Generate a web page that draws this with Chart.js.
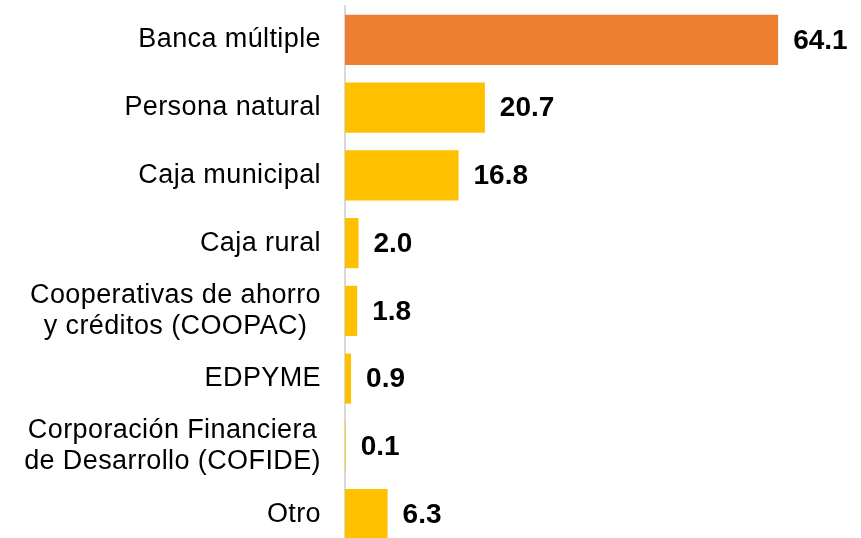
<!DOCTYPE html>
<html>
<head>
<meta charset="utf-8">
<script src="https://cdn.jsdelivr.net/npm/chart.js@4/dist/chart.umd.min.js"></script>
<style>
html,body{margin:0;padding:0;overflow:hidden;background:#fff;}
#wrap{position:absolute;left:0;top:0;width:861px;height:548px;}
</style>
</head>
<body>
<div id="wrap"><canvas id="c"></canvas></div>
<script>
const categories = [
  ["Banca múltiple"],
  ["Persona natural"],
  ["Caja municipal"],
  ["Caja rural"],
  ["Cooperativas de ahorro", "y créditos (COOPAC)"],
  ["EDPYME"],
  ["Corporación Financiera", "de Desarrollo (COFIDE)"],
  ["Otro"]
];
const values = [64.1, 20.7, 16.8, 2.0, 1.8, 0.9, 0.1, 6.3];
const barColors = ["#ED7D31", "#FFC000", "#FFC000", "#FFC000", "#FFC000", "#FFC000", "#FFC000", "#FFC000"];

const labelFont = '27px "Liberation Sans", Arial, sans-serif';
const valueFont = 'bold 28px "Liberation Sans", Arial, sans-serif';

const customLabels = {
  id: 'customLabels',
  afterDatasetsDraw(chart) {
    const ctx = chart.ctx;
    const yScale = chart.scales.y;
    const meta = chart.getDatasetMeta(0);
    ctx.save();
    // category labels
    ctx.font = labelFont;
    try { ctx.letterSpacing = '0.4px'; } catch (e) {}
    ctx.fillStyle = '#000';
    ctx.textBaseline = 'middle';
    ctx.textAlign = 'center';
    const rightEdge = 321;
    const lh = 31;
    categories.forEach((lines, i) => {
      const cy = yScale.getPixelForTick(i);
      let w = 0;
      lines.forEach(l => { w = Math.max(w, ctx.measureText(l).width); });
      const cx = rightEdge - w / 2;
      lines.forEach((l, j) => {
        ctx.fillText(l, cx, cy + (j - (lines.length - 1) / 2) * lh);
      });
    });
    // value labels
    try { ctx.letterSpacing = '0px'; } catch (e) {}
    ctx.font = valueFont;
    ctx.textAlign = 'left';
    meta.data.forEach((bar, i) => {
      ctx.fillText(values[i].toFixed(1), bar.x + 15, bar.y + 1);
    });
    ctx.restore();
  }
};

new Chart(document.getElementById('c'), {
  type: 'bar',
  data: {
    labels: categories.map(c => c.join(' ')),
    datasets: [{
      data: values,
      backgroundColor: barColors,
      borderWidth: 0,
      barPercentage: 0.74,
      categoryPercentage: 1
    }]
  },
  options: {
    indexAxis: 'y',
    responsive: true,
    maintainAspectRatio: false,
    animation: false,
    layout: { padding: { top: 6, right: 43, bottom: 0, left: 0 } },
    plugins: { legend: { display: false }, tooltip: { enabled: false } },
    scales: {
      x: { display: false, min: 0, max: 70 },
      y: {
        grid: { display: false, drawTicks: false },
        border: { display: true, color: '#D9D9D9', width: 2 },
        ticks: { display: false },
        afterFit(scale) { scale.width = 345; }
      }
    }
  },
  plugins: [customLabels]
});
</script>
</body>
</html>
